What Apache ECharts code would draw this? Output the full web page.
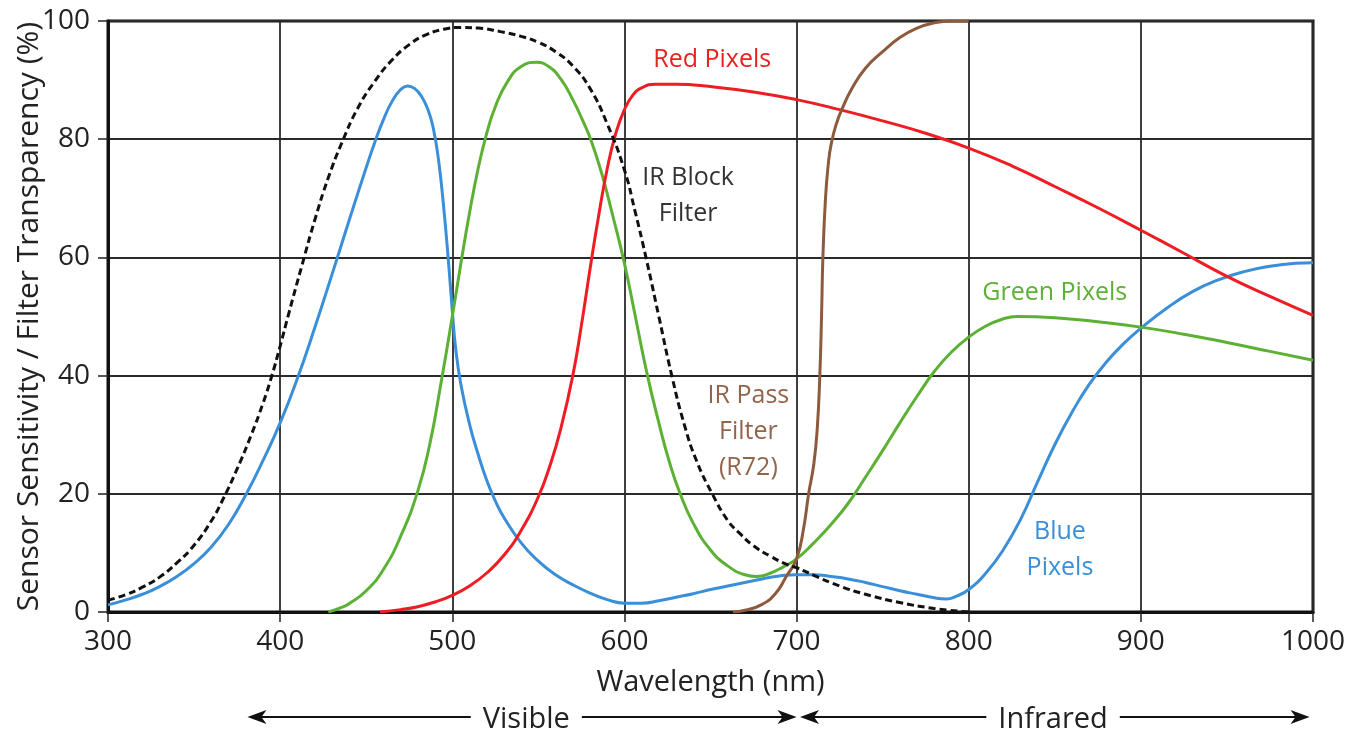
<!DOCTYPE html>
<html>
<head>
    <meta charset="utf-8"/>
    <title>Sensor Sensitivity / Filter Transparency</title>
    <script src="https://cdn.jsdelivr.net/npm/echarts@6/dist/echarts.min.js"></script>
    <style>
        html, body { margin: 0; padding: 0; background: #fff; }
        #main { width: 1359px; height: 730px; }
    </style>
</head>
<body>
<div id="main"></div>
<script>
    // [wavelength nm, percent]
    var bluePixels = [[300,1.2],[310,2],[320,3],[330,4.3],[340,6],[350,8.2],[360,11],[370,14.8],[380,19.8],[390,25.6],[400,32],[410,39.5],[420,48],[430,57],[440,66.2],[450,75.2],[455,79.5],[460,83.3],[465,86.4],[470,88.4],[474,89],[478,88.6],[482,87.3],[486,84.9],[489,81.8],[492,76.5],[495,68.5],[498,58.5],[500,51],[502,44.5],[505,38.5],[510,31.8],[515,26.7],[520,22.3],[525,18.8],[530,16],[540,11.7],[550,8.6],[560,6.3],[570,4.6],[580,3.2],[590,2.1],[600,1.5],[610,1.5],[620,1.9],[630,2.5],[640,3.1],[650,3.8],[660,4.4],[670,5],[680,5.6],[690,6.1],[700,6.3],[710,6.3],[720,6],[730,5.6],[740,5],[750,4.3],[760,3.6],[770,3],[780,2.4],[787,2.2],[793,2.7],[800,3.8],[810,6.6],[820,10.5],[830,15.6],[840,22],[850,28.3],[860,33.8],[870,38.5],[880,42.3],[890,45.4],[900,48],[915,51.4],[930,54.2],[945,56.2],[960,57.6],[975,58.5],[990,59],[1000,59.1]];
    var greenPixels = [[428,0],[435,0.7],[440,1.4],[450,3.6],[460,7.2],[470,12.8],[480,20.5],[487,28.5],[493,38],[500,50],[505,59],[510,67.5],[515,75],[520,81],[525,85.5],[532,89.7],[540,92.3],[549,93],[556,92.3],[563,90.2],[570,86.7],[576,83],[581,79.5],[587,74],[593,67.3],[600,59],[606,50.5],[613,40.5],[620,32],[626,25.5],[632,20.3],[640,15],[650,10.5],[660,7.8],[670,6.3],[677,6],[685,6.6],[692,7.6],[700,9],[710,11.7],[720,14.8],[730,18.4],[740,22.8],[750,27.3],[760,32],[770,36.5],[780,40.7],[790,44],[800,46.5],[810,48.4],[820,49.6],[828,50],[850,49.8],[875,49.1],[900,48.2],[925,47],[950,45.6],[975,44.1],[1000,42.6]];
    var redPixels = [[458,0],[470,0.4],[480,0.9],[490,1.7],[500,2.8],[510,4.4],[520,6.6],[530,9.6],[540,13.8],[550,19.5],[557,25],[563,31],[570,40],[575,48.5],[580,58],[585,67],[590,75],[595,81],[600,85],[605,87.5],[610,88.7],[618,89.3],[630,89.3],[650,88.9],[675,88],[700,86.7],[725,85],[750,83.1],[775,81],[800,78.5],[825,75.5],[850,72],[875,68.4],[900,64.6],[925,60.7],[950,56.8],[975,53.4],[1000,50.2]];
    var irPass = [[663,0],[670,0.3],[680,1.3],[688,3.2],[694,6],[700,9],[704,14],[707,20],[710,25],[712,31],[713.5,40],[714.5,50],[715.3,60],[716.8,70],[718.5,76],[720,79],[723,82.5],[727,85.5],[732,88.5],[740,92],[750,94.8],[760,97.2],[770,98.8],[780,99.7],[790,100],[800,100]];
    var irBlock = [[300,2],[310,2.9],[320,4.2],[330,5.9],[340,8.3],[350,11.3],[360,15.4],[367,19.2],[375,24.2],[383,29.8],[390,35.3],[395,39.8],[400,45],[405,50.5],[413,59],[420,66.2],[428,73.5],[436,79.5],[445,85.2],[455,89.8],[465,93.4],[475,96],[485,97.7],[495,98.6],[505,98.9],[515,98.8],[528,98.2],[540,97.4],[550,96.4],[560,94.8],[570,92.4],[580,88.6],[590,82.6],[600,74.8],[606,68],[612.5,60],[620,50],[627.5,40],[635,31.5],[642,25.5],[651,20],[660,15.5],[667,13.3],[675,11.2],[685,9.4],[694,8.1],[700,7.5],[710,6.2],[725,4.4],[740,3],[760,1.6],[780,0.6],[800,0]];

    // text notes: [label, nm, percent, colour]
    var notes = [
        ['Red Pixels', 651, 93.4, '#e8221f'],
        ['IR Block\nFilter', 637, 70.4, '#333333'],
        ['IR Pass\nFilter\n(R72)', 672, 30.5, '#94644a'],
        ['Green Pixels', 850, 54, '#5cb135'],
        ['Blue\nPixels', 853, 10.5, '#3a8fd8']
    ];
    // range arrows: [label, from nm, to nm, label nm]
    var ranges = [
        ['Visible', 381, 700, 543],
        ['Infrared', 702, 998, 849]
    ];

    var font = '"Open Sans", "Noto Sans", sans-serif';

    function curve(name, data, color, dashed) {
        return {
            name: name,
            type: 'line',
            data: data,
            showSymbol: false,
            smooth: 0.5,
            lineStyle: { color: color, width: 3, type: dashed ? [7, 4] : 'solid' },
            silent: true
        };
    }

    var myChart = echarts.init(document.getElementById('main'));
    var option = {
        animation: false,
        backgroundColor: '#fff',
        grid: {
            left: 108, right: 46, top: 21, bottom: 118,
            containLabel: false, outerBoundsMode: 'none',
            show: true, borderColor: '#111', borderWidth: 3
        },
        xAxis: {
            type: 'value', min: 300, max: 1000, interval: 100,
            name: 'Wavelength (nm)', nameLocation: 'middle', nameGap: 56, nameMoveOverlap: false,
            nameTextStyle: { fontSize: 29, color: '#222', fontFamily: font },
            axisLine: { show: true, lineStyle: { color: '#111', width: 3 } },
            axisTick: { show: true, length: 10, lineStyle: { color: '#222', width: 1.5 } },
            axisLabel: { fontSize: 28, color: '#222', fontFamily: font, margin: 16, formatter: function (v) { return String(v); } },
            splitLine: { show: true, lineStyle: { color: '#2a2a2a', width: 1.8 } }
        },
        yAxis: {
            type: 'value', min: 0, max: 100, interval: 20,
            name: 'Sensor Sensitivity / Filter Transparency (%)', nameLocation: 'middle', nameGap: 64, nameMoveOverlap: false,
            nameTextStyle: { fontSize: 30, color: '#222', fontFamily: font },
            axisLine: { show: true, lineStyle: { color: '#111', width: 3 } },
            axisTick: { show: true, length: 10, lineStyle: { color: '#222', width: 1.5 } },
            axisLabel: { fontSize: 28, color: '#222', fontFamily: font, margin: 18 },
            splitLine: { show: true, lineStyle: { color: '#2a2a2a', width: 1.8 } }
        },
        series: [
            curve('Blue Pixels', bluePixels, '#3a8fd8'),
            curve('Green Pixels', greenPixels, '#5cb135'),
            curve('Red Pixels', redPixels, '#ee1d23'),
            curve('IR Pass Filter', irPass, '#8d5a3e'),
            curve('IR Block Filter', irBlock, '#111', true)
        ]
    };
    myChart.setOption(option);

    // notes and arrows placed through the axes
    var graphics = [];
    notes.forEach(function (n) {
        var p = myChart.convertToPixel({ gridIndex: 0 }, [n[1], n[2]]);
        graphics.push({
            type: 'text', x: p[0], y: p[1], z: 10,
            style: { text: n[0], fill: n[3], fontSize: 25, fontFamily: font, lineHeight: 36, align: 'center', verticalAlign: 'middle' }
        });
    });
    var base = myChart.convertToPixel({ gridIndex: 0 }, [300, 0])[1];
    var ay = base + 105;
    ranges.forEach(function (r) {
        var x1 = myChart.convertToPixel({ gridIndex: 0 }, [r[1], 0])[0];
        var x2 = myChart.convertToPixel({ gridIndex: 0 }, [r[2], 0])[0];
        var xm = myChart.convertToPixel({ gridIndex: 0 }, [r[3], 0])[0];
        graphics.push({ type: 'line', shape: { x1: x1 + 6, y1: ay, x2: x2 - 6, y2: ay }, style: { stroke: '#111', lineWidth: 2 } });
        graphics.push({ type: 'polygon', shape: { points: [[x1, ay], [x1 + 19, ay - 7], [x1 + 14, ay], [x1 + 19, ay + 7]] }, style: { fill: '#111' } });
        graphics.push({ type: 'polygon', shape: { points: [[x2, ay], [x2 - 19, ay - 7], [x2 - 14, ay], [x2 - 19, ay + 7]] }, style: { fill: '#111' } });
        graphics.push({
            type: 'text', x: xm, y: ay + 3, z: 10,
            style: { text: r[0], fill: '#222', fontSize: 29, fontFamily: font, align: 'center', verticalAlign: 'middle', backgroundColor: '#fff', padding: [0, 12] }
        });
    });
    myChart.setOption({ graphic: graphics });

    window.onresize = function () {
        myChart.resize();
    };
</script>
</body>
</html>
